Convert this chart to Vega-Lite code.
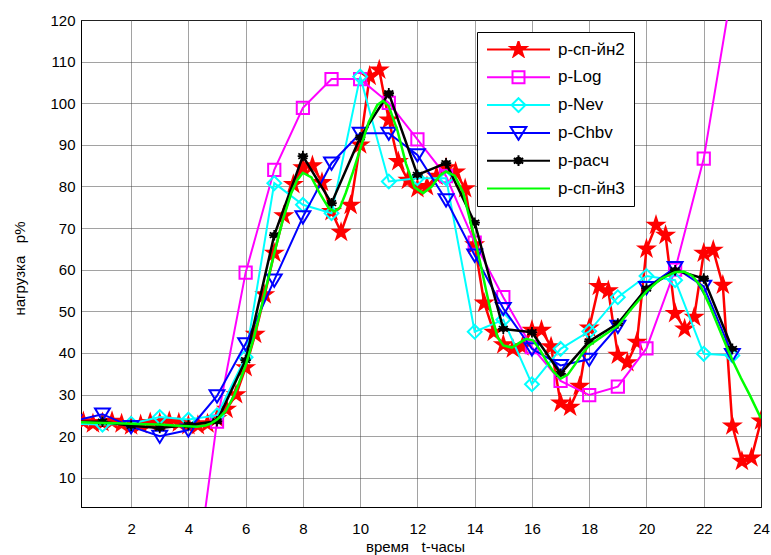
{
  "$schema": "https://vega.github.io/schema/vega-lite/v6.json",
  "autosize": "none",
  "width": 680,
  "height": 487,
  "padding": {"left": 81, "top": 20, "right": 10, "bottom": 48},
  "background": "white",
  "config": {
    "font": "Liberation Sans",
    "view": {"stroke": "#000000", "strokeWidth": 1},
    "axis": {"labelColor": "#000000", "titleColor": "#000000", "domainColor": "#000000", "titleFontWeight": "normal", "gridColor": "#444444", "gridDash": [1, 1], "gridOpacity": 1}
  },
  "datasets": {
    "red": [
      {"t": 0, "v": 23}, {"t": 0.333, "v": 23.5}, {"t": 0.667, "v": 23}, {"t": 1, "v": 23.3}, {"t": 1.333, "v": 23.6}, {"t": 1.667, "v": 23},
      {"t": 2, "v": 22.5}, {"t": 2.333, "v": 22.8}, {"t": 2.667, "v": 23.3}, {"t": 3, "v": 23.2}, {"t": 3.333, "v": 23.6}, {"t": 3.667, "v": 23.2},
      {"t": 4, "v": 22.6}, {"t": 4.333, "v": 22.6}, {"t": 4.667, "v": 23}, {"t": 5, "v": 24.3}, {"t": 5.333, "v": 26.5}, {"t": 5.667, "v": 30},
      {"t": 6, "v": 36.5}, {"t": 6.333, "v": 44.5}, {"t": 6.667, "v": 54}, {"t": 7, "v": 64}, {"t": 7.333, "v": 73}, {"t": 7.667, "v": 80.5},
      {"t": 8, "v": 84.5}, {"t": 8.333, "v": 85}, {"t": 8.667, "v": 81}, {"t": 9, "v": 74}, {"t": 9.333, "v": 69}, {"t": 9.667, "v": 75.5},
      {"t": 10, "v": 90}, {"t": 10.333, "v": 106.5}, {"t": 10.667, "v": 108}, {"t": 11, "v": 96}, {"t": 11.333, "v": 86}, {"t": 11.667, "v": 81.5},
      {"t": 12, "v": 79.5}, {"t": 12.333, "v": 80}, {"t": 12.667, "v": 82.5}, {"t": 13, "v": 84.5}, {"t": 13.333, "v": 83.5}, {"t": 13.667, "v": 79.5},
      {"t": 14, "v": 66}, {"t": 14.333, "v": 52}, {"t": 14.667, "v": 45}, {"t": 15, "v": 42}, {"t": 15.333, "v": 41}, {"t": 15.667, "v": 41.5},
      {"t": 16, "v": 45.5}, {"t": 16.333, "v": 45.5}, {"t": 16.667, "v": 41.5}, {"t": 17, "v": 28}, {"t": 17.333, "v": 27}, {"t": 17.667, "v": 32},
      {"t": 18, "v": 46}, {"t": 18.333, "v": 56}, {"t": 18.667, "v": 55}, {"t": 19, "v": 39.5}, {"t": 19.333, "v": 37.7}, {"t": 19.667, "v": 42.6},
      {"t": 20, "v": 65}, {"t": 20.333, "v": 70.7}, {"t": 20.667, "v": 68.3}, {"t": 21, "v": 49.5}, {"t": 21.333, "v": 45.8}, {"t": 21.667, "v": 48.6},
      {"t": 22, "v": 64}, {"t": 22.333, "v": 64.7}, {"t": 22.667, "v": 56.3}, {"t": 23, "v": 22.5}, {"t": 23.333, "v": 14}, {"t": 23.667, "v": 14.8},
      {"t": 24, "v": 23.7}
    ],
    "log": [
      {"t": 4, "v": -28}, {"t": 5, "v": 23.5}, {"t": 6, "v": 59.3}, {"t": 7, "v": 84}, {"t": 8, "v": 98.9}, {"t": 9, "v": 105.8},
      {"t": 10, "v": 105.8}, {"t": 11, "v": 100.1}, {"t": 12, "v": 91.3}, {"t": 13, "v": 82.5}, {"t": 14, "v": 66.5}, {"t": 15, "v": 53.4},
      {"t": 16, "v": 41.4}, {"t": 17, "v": 33.3}, {"t": 18, "v": 29.9}, {"t": 19, "v": 31.9}, {"t": 20, "v": 41.1}, {"t": 21, "v": 60},
      {"t": 22, "v": 86.7}, {"t": 23, "v": 128}
    ],
    "nev": [
      {"t": 0, "v": 23}, {"t": 1, "v": 22.8}, {"t": 2, "v": 23}, {"t": 3, "v": 24.6}, {"t": 4, "v": 24}, {"t": 5, "v": 25},
      {"t": 6, "v": 39}, {"t": 7, "v": 80.8}, {"t": 8, "v": 75.6}, {"t": 9, "v": 73.6}, {"t": 10, "v": 106.4}, {"t": 11, "v": 81.2},
      {"t": 12, "v": 82}, {"t": 13, "v": 82}, {"t": 14, "v": 45.1}, {"t": 15, "v": 48}, {"t": 16, "v": 32.5}, {"t": 17, "v": 41},
      {"t": 18, "v": 45.2}, {"t": 19, "v": 53.4}, {"t": 20, "v": 58.5}, {"t": 21, "v": 57.5}, {"t": 22, "v": 39.8}, {"t": 23, "v": 39.4}
    ],
    "chbv": [
      {"t": 0, "v": 23.7}, {"t": 1, "v": 25.3}, {"t": 2, "v": 22.3}, {"t": 3, "v": 20}, {"t": 4, "v": 21.5}, {"t": 5, "v": 29.7},
      {"t": 6, "v": 42.2}, {"t": 7, "v": 57.5}, {"t": 8, "v": 72.7}, {"t": 9, "v": 85.6}, {"t": 10, "v": 92.8}, {"t": 11, "v": 92.8},
      {"t": 12, "v": 87.6}, {"t": 13, "v": 76.8}, {"t": 14, "v": 63.5}, {"t": 15, "v": 50.7}, {"t": 16, "v": 41}, {"t": 17, "v": 37},
      {"t": 18, "v": 38.5}, {"t": 19, "v": 46.4}, {"t": 20, "v": 55.7}, {"t": 21, "v": 60.5}, {"t": 22, "v": 56}, {"t": 23, "v": 39.6}
    ],
    "rasch": [
      {"t": 0, "v": 23.5}, {"t": 1, "v": 23.5}, {"t": 2, "v": 22.5}, {"t": 3, "v": 22}, {"t": 4, "v": 22.7}, {"t": 5, "v": 23.6},
      {"t": 6, "v": 38.3}, {"t": 7, "v": 68.3}, {"t": 8, "v": 87.3}, {"t": 9, "v": 76}, {"t": 10, "v": 91.8}, {"t": 11, "v": 102.4},
      {"t": 12, "v": 82.8}, {"t": 13, "v": 85.6}, {"t": 14, "v": 71.3}, {"t": 15, "v": 45.8}, {"t": 16, "v": 45}, {"t": 17, "v": 35},
      {"t": 18, "v": 42.8}, {"t": 19, "v": 47.1}, {"t": 20, "v": 55.5}, {"t": 21, "v": 59.9}, {"t": 22, "v": 57.9}, {"t": 23, "v": 41}
    ],
    "green": [
      {"t": 0, "v": 23.4}, {"t": 0.5, "v": 23.3}, {"t": 1, "v": 23.2}, {"t": 1.5, "v": 23.1}, {"t": 2, "v": 23}, {"t": 2.5, "v": 22.9},
      {"t": 3, "v": 22.8}, {"t": 3.5, "v": 22.6}, {"t": 4, "v": 22.4}, {"t": 4.3, "v": 22.3}, {"t": 4.6, "v": 22.6}, {"t": 4.8, "v": 23.1},
      {"t": 5, "v": 24}, {"t": 5.3, "v": 26}, {"t": 5.6, "v": 29.8}, {"t": 6, "v": 37}, {"t": 6.3, "v": 44}, {"t": 6.6, "v": 52.5},
      {"t": 7, "v": 64}, {"t": 7.3, "v": 72}, {"t": 7.6, "v": 78.5}, {"t": 7.8, "v": 81.5}, {"t": 8, "v": 83.3}, {"t": 8.3, "v": 82.2},
      {"t": 8.6, "v": 78.2}, {"t": 8.9, "v": 74.8}, {"t": 9.1, "v": 74}, {"t": 9.3, "v": 75}, {"t": 9.5, "v": 78.5}, {"t": 9.75, "v": 83.5},
      {"t": 10, "v": 89}, {"t": 10.3, "v": 95.5}, {"t": 10.6, "v": 99.6}, {"t": 10.8, "v": 100.6}, {"t": 11, "v": 99.3}, {"t": 11.3, "v": 93.5},
      {"t": 11.6, "v": 85.5}, {"t": 11.9, "v": 79.8}, {"t": 12.2, "v": 78.4}, {"t": 12.5, "v": 80}, {"t": 12.8, "v": 82.8}, {"t": 13, "v": 83.6},
      {"t": 13.3, "v": 82.6}, {"t": 13.6, "v": 78.5}, {"t": 13.8, "v": 73}, {"t": 14, "v": 67.5}, {"t": 14.2, "v": 61.5}, {"t": 14.4, "v": 55},
      {"t": 14.6, "v": 48.8}, {"t": 14.8, "v": 43.8}, {"t": 15, "v": 41.8}, {"t": 15.3, "v": 41.3}, {"t": 15.6, "v": 42.6}, {"t": 15.8, "v": 43.4},
      {"t": 16.05, "v": 43}, {"t": 16.3, "v": 40.5}, {"t": 16.5, "v": 38.1}, {"t": 16.75, "v": 35.5}, {"t": 17, "v": 33.8}, {"t": 17.25, "v": 34.8},
      {"t": 17.5, "v": 37.2}, {"t": 17.75, "v": 39.8}, {"t": 18, "v": 41.8}, {"t": 18.5, "v": 44.2}, {"t": 19, "v": 46.5}, {"t": 19.5, "v": 50.8},
      {"t": 20, "v": 54.8}, {"t": 20.5, "v": 57.8}, {"t": 21, "v": 59.4}, {"t": 21.3, "v": 59.6}, {"t": 21.6, "v": 58.5}, {"t": 21.9, "v": 56},
      {"t": 22.2, "v": 51.5}, {"t": 22.5, "v": 46.5}, {"t": 22.8, "v": 41.5}, {"t": 23, "v": 38.3}, {"t": 23.3, "v": 34}, {"t": 23.6, "v": 30},
      {"t": 24, "v": 24.3}
    ]
  },
  "encoding": {
    "x": {
      "field": "t", "type": "quantitative",
      "scale": {"domain": [0.25, 24], "nice": false, "zero": false},
      "axis": {
        "values": [2, 4, 6, 8, 10, 12, 14, 16, 18, 20, 22, 24],
        "title": "время\u00a0\u00a0\u00a0t-часы",
        "titleFontSize": 15, "titleX": 334, "titleY": 39, "titleBaseline": "middle", "titleAlign": "center",
        "labelFontSize": 15, "labelPadding": 14, "ticks": false, "labelFlush": false, "labelOverlap": false,
        "grid": true
      }
    },
    "y": {
      "field": "v", "type": "quantitative",
      "scale": {"domain": [3, 120], "nice": false, "zero": false},
      "axis": {
        "values": [10, 20, 30, 40, 50, 60, 70, 80, 90, 100, 110, 120],
        "title": "нагрузка\u00a0\u00a0\u00a0p%",
        "titleFontSize": 15, "titleX": -62, "titleY": 248, "titleBaseline": "middle", "titleAlign": "center", "titleAngle": -90,
        "labelFontSize": 15, "labelPadding": 6, "ticks": false,
        "grid": true
      }
    }
  },
  "layer": [
    {
      "data": {"name": "red"},
      "transform": [{"calculate": "'p-сп-йн2'", "as": "s"}],
      "mark": {"type": "line", "strokeWidth": 2.5, "clip": true},
      "encoding": {
        "color": {
          "field": "s", "type": "nominal",
          "scale": {"domain": ["p-сп-йн2", "p-Log", "p-Nev", "p-Chbv", "p-расч", "p-сп-йн3"], "range": ["#ff0000", "#ff00ff", "#00ffff", "#0000ff", "#000000", "#00ff00"]},
          "legend": {
            "title": null, "orient": "none", "legendX": 396, "legendY": 12,
            "fillColor": "white", "strokeColor": "#000000", "padding": 9,
            "labelFontSize": 17, "labelColor": "#000000", "labelOffset": 7,
            "symbolSize": 3969, "clipHeight": 17, "rowPadding": 9.8,
            "encode": {
              "symbols": {
                "update": {
                  "shape": {"signal": "datum.value === 'p-сп-йн2' ? 'M-1,0L1,0M0,-0.26L0.058,-0.08L0.247,-0.08L0.094,0.031L0.153,0.21L0,0.099L-0.153,0.21L-0.094,0.031L-0.247,-0.08L-0.058,-0.08Z' : datum.value === 'p-Log' ? 'M-1,0L1,0M-0.19,-0.19L0.19,-0.19L0.19,0.19L-0.19,0.19Z' : datum.value === 'p-Nev' ? 'M-1,0L1,0M0,-0.22L0.22,0L0,0.22L-0.22,0Z' : datum.value === 'p-Chbv' ? 'M-1,0L1,0M-0.25,-0.19L0.25,-0.19L0,0.22Z' : datum.value === 'p-расч' ? 'M-1,0L1,0M0.09,0A0.09,0.09 0 1,1 -0.09,0A0.09,0.09 0 1,1 0.09,0M0,-0.17L0,0.17M-0.15,-0.085L0.15,0.085M-0.15,0.085L0.15,-0.085' : 'M-1,0L1,0'"},
                  "fill": {"signal": "datum.value === 'p-сп-йн2' ? '#ff0000' : datum.value === 'p-расч' ? '#000000' : 'transparent'"},
                  "stroke": {"signal": "scale('color', datum.value)"},
                  "strokeWidth": {"value": 2},
                  "opacity": {"value": 1}
                }
              }
            }
          }
        }
      }
    },
    {
      "data": {"name": "red"},
      "mark": {"type": "point", "shape": "M0,-1L0.2245,-0.309L0.951,-0.309L0.363,0.118L0.588,0.809L0,0.382L-0.588,0.809L-0.363,0.118L-0.951,-0.309L-0.2245,-0.309Z", "size": 300, "filled": true, "fill": "#ff0000", "stroke": "#ff0000", "strokeWidth": 1.5, "opacity": 1, "clip": true},
      "encoding": {}
    },
    {
      "data": {"name": "log"},
      "transform": [{"calculate": "'p-Log'", "as": "s"}],
      "mark": {"type": "line", "strokeWidth": 2, "clip": true},
      "encoding": {"color": {"field": "s", "type": "nominal"}}
    },
    {
      "data": {"name": "log"},
      "mark": {"type": "point", "shape": "square", "size": 150, "filled": false, "stroke": "#ff00ff", "strokeWidth": 2, "opacity": 1, "clip": true},
      "encoding": {}
    },
    {
      "data": {"name": "nev"},
      "transform": [{"calculate": "'p-Nev'", "as": "s"}],
      "mark": {"type": "line", "strokeWidth": 2, "clip": true},
      "encoding": {"color": {"field": "s", "type": "nominal"}}
    },
    {
      "data": {"name": "nev"},
      "mark": {"type": "point", "shape": "diamond", "size": 190, "filled": false, "stroke": "#00ffff", "strokeWidth": 2, "opacity": 1, "clip": true},
      "encoding": {}
    },
    {
      "data": {"name": "chbv"},
      "transform": [{"calculate": "'p-Chbv'", "as": "s"}],
      "mark": {"type": "line", "strokeWidth": 2, "clip": true},
      "encoding": {"color": {"field": "s", "type": "nominal"}}
    },
    {
      "data": {"name": "chbv"},
      "mark": {"type": "point", "shape": "M-1,-0.75L1,-0.75L0,0.9Z", "size": 220, "filled": false, "stroke": "#0000ff", "strokeWidth": 2, "opacity": 1, "clip": true},
      "encoding": {}
    },
    {
      "data": {"name": "rasch"},
      "transform": [{"calculate": "'p-расч'", "as": "s"}],
      "mark": {"type": "line", "strokeWidth": 2.5, "clip": true},
      "encoding": {"color": {"field": "s", "type": "nominal"}}
    },
    {
      "data": {"name": "rasch"},
      "mark": {"type": "point", "shape": "M0,-1L0,1M-0.87,-0.5L0.87,0.5M-0.87,0.5L0.87,-0.5M-1,0L1,0", "size": 110, "filled": false, "stroke": "#000000", "strokeWidth": 1.8, "opacity": 1, "clip": true},
      "encoding": {}
    },
    {
      "data": {"name": "rasch"},
      "mark": {"type": "point", "shape": "circle", "size": 40, "filled": true, "fill": "#000000", "opacity": 1, "clip": true},
      "encoding": {}
    },
    {
      "data": {"name": "green"},
      "transform": [{"calculate": "'p-сп-йн3'", "as": "s"}],
      "mark": {"type": "line", "strokeWidth": 2.5, "clip": true},
      "encoding": {"color": {"field": "s", "type": "nominal"}}
    }
  ]
}
